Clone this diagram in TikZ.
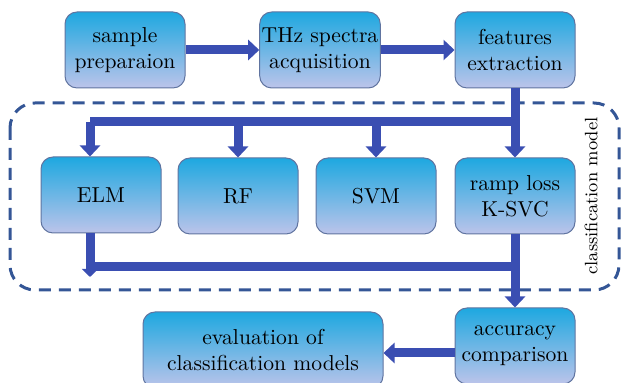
\documentclass[tikz,border=0pt]{standalone}
\usetikzlibrary{arrows.meta}
\definecolor{boxtop}{RGB}{30,168,224}
\definecolor{boxbot}{RGB}{188,196,234}
\definecolor{boxline}{RGB}{96,116,160}
\definecolor{flowblue}{RGB}{58,78,178}
\definecolor{dashblue}{RGB}{52,86,150}
\tikzset{
  stage/.style={draw=boxline, line width=0.5pt, rounded corners=6pt,
    top color=boxtop, bottom color=boxbot, minimum width=60pt, minimum height=38pt,
    align=center, font=\fontsize{10.8}{13.2}\selectfont, inner sep=1pt},
  flow/.style={draw=flowblue, line width=4.5pt,
    -{Triangle[width=10pt,length=5.5pt]}},
  bar/.style={draw=flowblue, line width=4.5pt},
  group/.style={draw=dashblue, line width=1.5pt, dash pattern=on 6pt off 4pt,
    rounded corners=12.5pt}
}
\begin{document}
\begin{tikzpicture}[x=0.5pt,y=-0.5pt]
\useasboundingbox (0,0) rectangle (621,383);

% grouping frame
\draw[group] (10,103) rectangle (619,290);
\node[rotate=90, font=\fontsize{9}{11}\selectfont] (grouplabel) at (591,196) {classification model};

% top row
\node[stage] (prep) at (125,50) {sample\\preparaion};
\node[stage] (thz) at (320,50) {THz spectra\\acquisition};
\node[stage] (feat) at (515,50) {features\\extraction};

% classifiers
\node[stage] (elm) at (101,195) {ELM};
\node[stage] (rf) at (238,196) {RF};
\node[stage] (svm) at (376,196) {SVM};
\node[stage] (ramp) at (515,196) {ramp loss\\K-SVC};

% bottom row
\node[stage] (acc) at (515,346) {accuracy\\comparison};
\node[stage, minimum width=120pt] (eval) at (263,350) {evaluation of\\classification models};

\coordinate (split) at (515,122);
\coordinate (join) at (515,267);
\coordinate (elmend) at (90,277);

\draw[flow] (prep) -- (thz);
\draw[flow] (thz) -- (feat);
\draw[flow] (feat) -- (ramp);
\draw[bar] (split) -- (split -| elmend);
\draw[flow] (split -| elmend) -- (elm.north -| elmend);
\draw[flow] (split -| rf) -- (rf.north);
\draw[flow] (split -| svm) -- (svm.north);

\draw[flow, -{Triangle[width=8pt,length=4pt]}] (elm.south -| elmend) -- (elmend);
\draw[bar] (join -| elmend) -- (join);
\draw[flow] (ramp) -- (acc);
\draw[flow] (acc.west |- 0,353) -- (eval.east |- 0,353);
\end{tikzpicture}
\end{document}
